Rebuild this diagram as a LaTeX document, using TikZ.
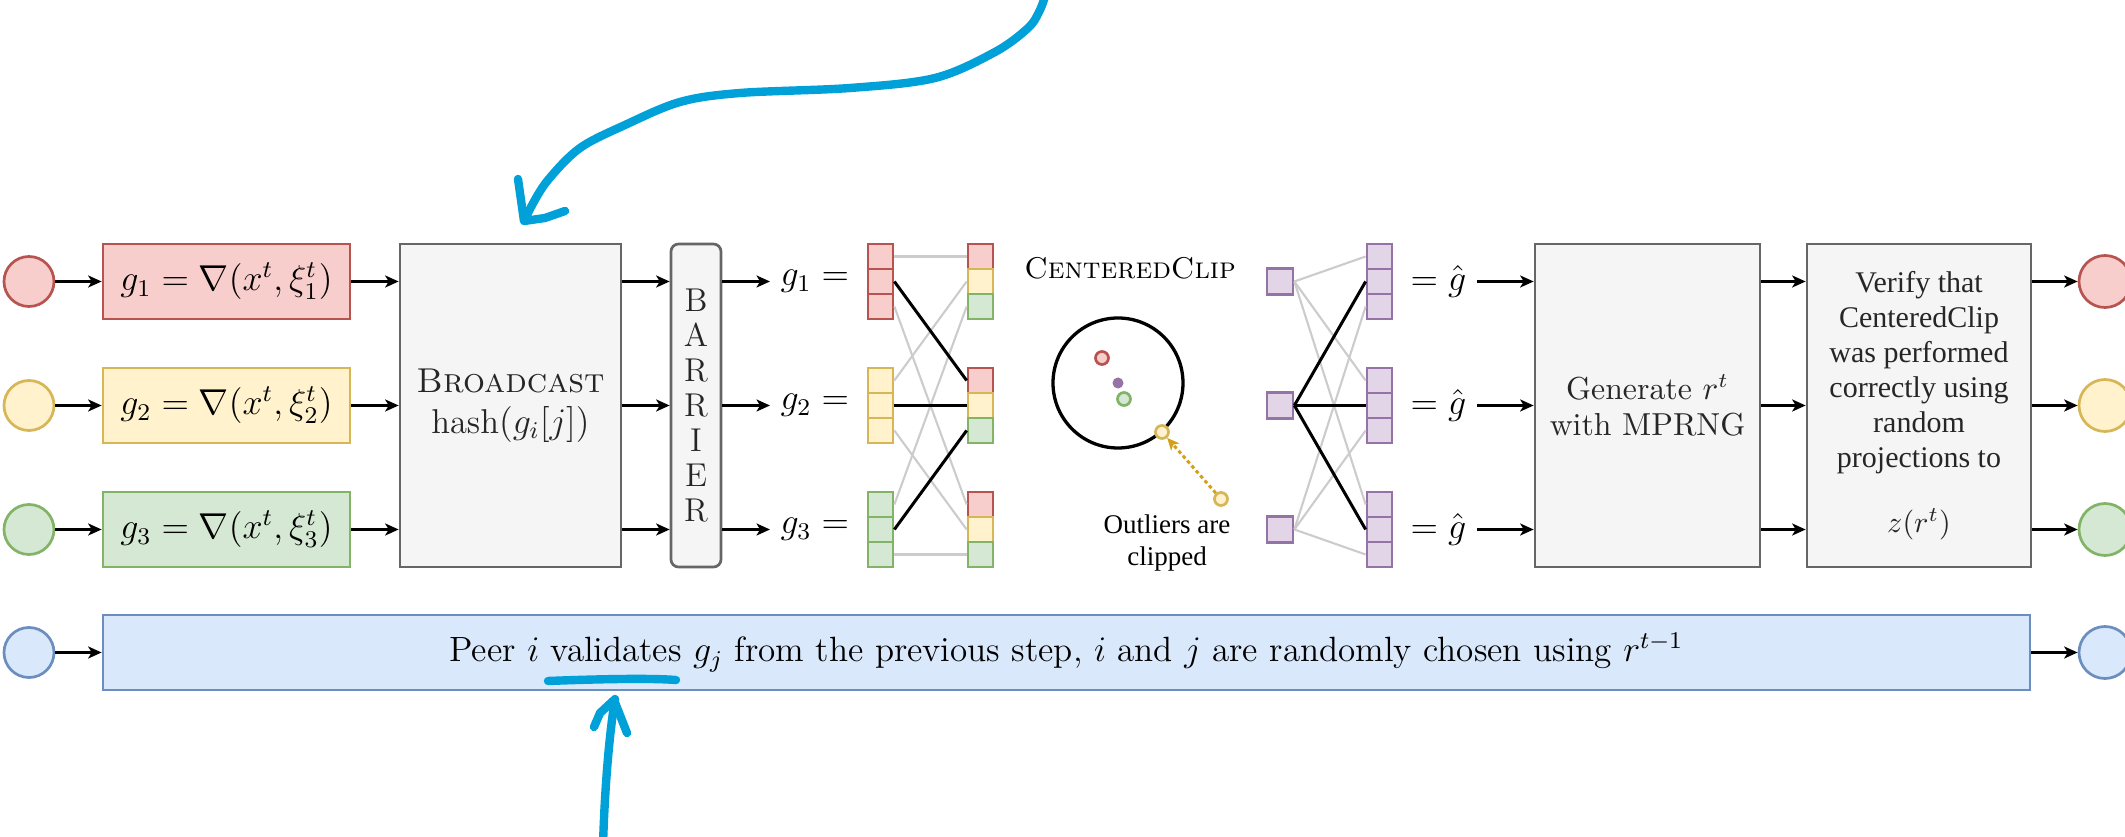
\documentclass[tikz,border=0pt]{standalone}
\usepackage{fontspec}
\usepackage{amsmath}
\newfontfamily\timesfont{Liberation Serif}
\usetikzlibrary{arrows.meta}

% one unit = one pixel of the drawing grid
\newcommand\PX{0.33333pt}

\definecolor{redF}{HTML}{F8CECC}\definecolor{redD}{HTML}{B85450}
\definecolor{yelF}{HTML}{FFF2CC}\definecolor{yelD}{HTML}{D6B656}
\definecolor{grnF}{HTML}{D5E8D4}\definecolor{grnD}{HTML}{82B366}
\definecolor{bluF}{HTML}{DAE8FC}\definecolor{bluD}{HTML}{6C8EBF}
\definecolor{purF}{HTML}{E1D5E7}\definecolor{purD}{HTML}{9673A6}
\definecolor{gryF}{HTML}{F5F5F5}\definecolor{gryD}{HTML}{666666}
\definecolor{wireC}{HTML}{CCCCCC}
\definecolor{goldC}{HTML}{D4A017}
\definecolor{inkC}{HTML}{00A0D8}

\tikzset{
  peer/.style 2 args={circle, draw=#2, fill=#1, line width=0.9pt, minimum size=50*\PX, inner sep=0pt},
  gradbox/.style 2 args={rectangle, draw=#2, fill=#1, line width=0.9pt, minimum width=247*\PX,
    minimum height=75*\PX, inner sep=0pt, font=\fontsize{12}{14}\selectfont},
  stage/.style={rectangle, draw=gryD, fill=gryF, line width=0.9pt, minimum height=323*\PX,
    inner sep=0pt, align=center, text=black!85},
  cell/.style 2 args={rectangle, draw=#2, fill=#1, line width=0.9pt, minimum size=25*\PX, inner sep=0pt},
  spot/.style 2 args={circle, draw=#2, fill=#1, line width=0.9pt, minimum size=13*\PX, inner sep=0pt},
  flow/.style={draw=black, line width=0.8pt, -{Stealth[length=4.5pt, width=4pt, inset=1.2pt]}},
  wire/.style={draw=wireC, line width=0.7pt},
  hot/.style={draw=black, line width=1pt},
  ink/.style={draw=inkC, line width=2.8pt, line cap=round, line join=round},
  eqlabel/.style={anchor=west, font=\fontsize{12}{14}\selectfont},
}

\begin{document}
\begin{tikzpicture}[x=0.33333pt, y=-0.33333pt]
\path[use as bounding box, fill=white] (0,0) rectangle (2125,837);
\clip (0,0) rectangle (2125,837);

% ---- stage boxes ----
\node[stage, minimum width=221*\PX, font=\fontsize{11.5}{13.5}\selectfont] (bcast) at (510.5,405.5)
  {\textsc{Broadcast}\\$\mathrm{hash}(g_i[j])$};
\node[stage, minimum width=50*\PX, rounded corners=2.5pt, font=\fontsize{11}{11.7}\selectfont] (barrier) at (696,405.5)
  {B\\A\\R\\R\\I\\E\\R};
\node[stage, minimum width=225*\PX, font=\fontsize{10.6}{12}\selectfont] (gen) at (1647.5,405.5)
  {Generate $r^t$\\with MPRNG};
\node[stage, minimum width=224*\PX, font=\timesfont\fontsize{10}{11.7}\selectfont] (verify) at (1919,405.5)
  {Verify that\\CenteredClip\\was performed\\correctly using\\random\\projections to\\[10pt]$z(r^t)$};

% ---- peers, local gradients and the flow between stages ----
\foreach \i/\f/\d in {1/redF/redD, 2/yelF/yelD, 3/grnF/grnD} {
  \pgfmathsetmacro\ry{281.5+124*(\i-1)}
  \node[peer={\f}{\d}] (in\i) at (29,\ry) {};
  \node[gradbox={\f}{\d}] (g\i) at (226.5,\ry) {$g_\i = \nabla(x^t,\xi^t_\i)$};
  \node[peer={\f}{\d}, minimum size=52*\PX] (out\i) at (2105,\ry) {};
  \node[eqlabel] (lab\i) at (770,\ry) {$g_\i =$};
  \node[eqlabel] (hat\i) at (1400,\ry) {$=\hat{g}$};
  \draw[flow] (in\i) -- (g\i);
  \draw[flow] (g\i.east) -- (bcast.west |- g\i.east);
  \draw[flow] (bcast.east |- g\i.east) -- (barrier.west |- g\i.east);
  \draw[flow] (barrier.east |- lab\i.west) -- (lab\i.west);
  \draw[flow] (hat\i.east) -- (gen.west |- hat\i.east);
  \draw[flow] (gen.east |- hat\i.east) -- (verify.west |- hat\i.east);
  \draw[flow] (verify.east |- out\i.west) -- (out\i.west);
}

% ---- scattered vector parts: peer i, part j goes to group j ----
\foreach \i/\f/\d in {1/redF/redD, 2/yelF/yelD, 3/grnF/grnD} {
  \foreach \j in {1,2,3} {
    \pgfmathsetmacro\cy{281.5+124*(\i-1)+25*(\j-2)}
    \node[cell={\f}{\d}] (L\i\j) at (880.5,\cy) {};
    \pgfmathsetmacro\gy{281.5+124*(\j-1)+25*(\i-2)}
    \node[cell={\f}{\d}] (R\j\i) at (980.5,\gy) {};
  }
}
\foreach \i in {1,2,3} {
  \foreach \j in {1,3} { \draw[wire] (L\i\j.east) -- (R\j\i.west); }
}
\foreach \i in {1,2,3} { \draw[hot] (L\i2.east) -- (R2\i.west); }

% ---- CenteredClip ----
\node[font=\fontsize{10}{12}\selectfont] (cctitle) at (1130,268) {\textsc{CenteredClip}};
\node[circle, draw=black, line width=1.1pt, minimum size=130*\PX, inner sep=0pt] (ball) at (1118,383) {};
\node[spot={redF}{redD}] (sr) at (1102,358) {};
\node[circle, fill=purD, minimum size=11*\PX, inner sep=0pt] (sc) at (1118,383) {};
\node[spot={grnF}{grnD}] (sg) at (1124,399) {};
\node[spot={yelF}{yelD}] (sy) at (1162,432) {};
\node[spot={yelF}{yelD}] (outlier) at (1221,499) {};
\draw[draw=goldC, line width=1pt, dash pattern=on 1.2pt off 1pt,
      -{Stealth[length=4pt, width=3.6pt, inset=1pt]}] (outlier) -- (sy);
\node[align=center, font=\timesfont\fontsize{9}{10.7}\selectfont] (note) at (1167,543) {Outliers are\\clipped};

% ---- aggregated parts gathered back ----
\foreach \k in {1,2,3} {
  \pgfmathsetmacro\ry{281.5+124*(\k-1)}
  \node[cell={purF}{purD}, minimum size=26*\PX] (S\k) at (1280,\ry) {};
  \foreach \j in {1,2,3} {
    \pgfmathsetmacro\cy{281.5+124*(\k-1)+25*(\j-2)}
    \node[cell={purF}{purD}] (P\k\j) at (1379.5,\cy) {};
  }
}
\foreach \k in {1,3} {
  \foreach \j in {1,2,3} { \draw[wire] (S\k.east) -- (P\j\k.west); }
}
\foreach \j in {1,2,3} { \draw[hot] (S2.east) -- (P\j2.west); }

% ---- validation row ----
\node[rectangle, draw=bluD, fill=bluF, line width=0.9pt, minimum width=1927*\PX, minimum height=75*\PX,
      inner sep=0pt, font=\fontsize{11.7}{14}\selectfont] (valid) at (1066.5,652.5)
  {Peer $i$ validates $g_j$ from the previous step, $i$ and $j$ are randomly chosen using $r^{t-1}$};
\node[peer={bluF}{bluD}] (vin) at (29,652.5) {};
\node[peer={bluF}{bluD}, minimum size=52*\PX] (vout) at (2105,652.5) {};
\draw[flow] (vin) -- (valid);
\draw[flow] (valid.east |- vout.west) -- (vout.west);

% ---- hand-drawn marks ----
\draw[ink] plot[smooth, tension=0.55] coordinates {(1047,-10) (1040,10) (1028,28) (995,52) (935,78)
  (850,88) (740,93) (680,102) (625,125) (580,148) (548,180) (531,207) (525,221)};
\draw[ink] (518,179) -- (524,221) -- (545,218) -- (565,211);
\draw[ink] (548,681) .. controls (600,679) and (650,678) .. (676,680);
\draw[ink] (603,845) .. controls (605,780) and (610,730) .. (615,699);
\draw[ink] (594,727) -- (600,713) -- (614,700) -- (627,733);
\end{tikzpicture}
\end{document}
